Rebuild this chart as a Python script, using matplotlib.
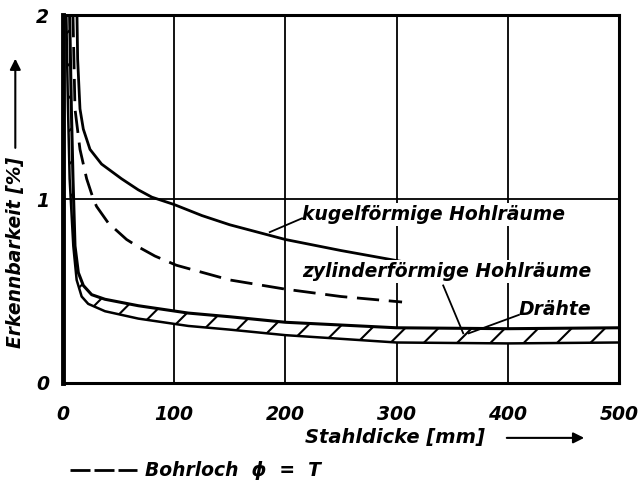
import numpy as np
import matplotlib
matplotlib.use("Agg")
import matplotlib.pyplot as plt

# Stahldicke [mm] vs Erkennbarkeit [%]
kugel_x = [12.6, 13.2, 15.3, 18.3, 24.3, 34.7, 52.7, 67.7, 80, 100, 125, 150, 175, 200, 250, 305]
kugel_y = [2.0, 1.76, 1.49, 1.38, 1.27, 1.19, 1.11, 1.05, 1.01, 0.97, 0.91, 0.86, 0.82, 0.78, 0.72, 0.66]

zyl_x = [9, 10.8, 15.3, 21.3, 27.3, 30.2, 40.7, 57.2, 67.7, 82.7, 102, 150, 200, 250, 305]
zyl_y = [2.0, 1.49, 1.27, 1.11, 1.0, 0.96, 0.87, 0.78, 0.74, 0.69, 0.64, 0.56, 0.51, 0.47, 0.44]

# Drähte: band between upper and lower curve
draht_hi_x = [6, 7.5, 9, 10.8, 13.8, 18.3, 25.8, 37.8, 67.7, 112.7, 150, 200, 250, 300, 400, 500]
draht_hi_y = [2.0, 1.5, 1.11, 0.745, 0.60, 0.53, 0.48, 0.455, 0.42, 0.38, 0.36, 0.33, 0.315, 0.30, 0.295, 0.30]
draht_lo_x = [3, 4.5, 6, 9.3, 12.3, 16.8, 22.7, 37.8, 67.7, 112.7, 150, 200, 250, 300, 400, 500]
draht_lo_y = [2.0, 1.5, 1.11, 0.745, 0.56, 0.47, 0.43, 0.39, 0.35, 0.31, 0.29, 0.26, 0.24, 0.22, 0.215, 0.22]

xticks = [0, 100, 200, 300, 400, 500]
yticks = [0, 1, 2]

plt.rcParams['hatch.linewidth'] = 1.5
font = dict(style='italic', weight='bold', color='black')

fig = plt.figure(figsize=(6.38, 4.86), dpi=100)
ax = fig.add_axes([0.0987, 0.212, 0.8713, 0.757])
ax.set_xlim(0, 500)
ax.set_ylim(0, 2)

# grid
for xv in xticks[1:-1]:
    ax.axvline(xv, color='black', lw=1.3, zorder=1)
ax.axhline(1, color='black', lw=1.3, zorder=1)

ax.plot(kugel_x, kugel_y, color='black', lw=2.0, zorder=3)
ax.plot(zyl_x, zyl_y, color='black', lw=2.0, dashes=(8, 3.5), zorder=3)
band_x = np.concatenate([draht_hi_x, draht_lo_x[::-1]])
band_y = np.concatenate([draht_hi_y, draht_lo_y[::-1]])
ax.fill(band_x, band_y, facecolor='white', edgecolor='black', hatch='/', lw=0, zorder=2)
ax.plot(draht_hi_x, draht_hi_y, color='black', lw=2.2, zorder=3)
ax.plot(draht_lo_x, draht_lo_y, color='black', lw=1.8, zorder=3)

# labels with leader lines
box = dict(facecolor='white', edgecolor='none', pad=1.5)
ax.text(215, 0.915, 'kugelförmige Hohlräume', fontsize=13.5, va='center', ha='left', zorder=4,
        bbox=box, **font)
ax.plot([186, 215], [0.82, 0.895], color='black', lw=1.3, zorder=4)
ax.text(215, 0.605, 'zylinderförmige Hohlräume', fontsize=13.5, va='center', ha='left', zorder=4,
        bbox=box, **font)
ax.plot([342, 360], [0.53, 0.27], color='black', lw=1.3, zorder=4)
ax.text(410, 0.40, 'Drähte', fontsize=13.5, va='center', ha='left', zorder=4,
        bbox=dict(facecolor='white', edgecolor='none', pad=1.0), **font)
ax.plot([410, 365], [0.37, 0.27], color='black', lw=1.3, zorder=4)

ax.set_xticks(xticks)
ax.set_yticks(yticks)
ax.set_xticklabels([str(v) for v in xticks], fontsize=13.5, **font)
ax.set_yticklabels([str(v) for v in yticks], fontsize=13.5, **font)
ax.tick_params(length=0)
ax.tick_params(axis='x', pad=16)
ax.tick_params(axis='y', pad=10)
for s in ax.spines.values():
    s.set_linewidth(2.2)
ax.spines['left'].set_linewidth(3.5)

# axis titles with arrows
fig.text(0.024, 0.48, 'Erkennbarkeit [%]', rotation=90, fontsize=13.5, ha='center', va='center', **font)
fig.patches.append(matplotlib.patches.FancyArrowPatch((0.024, 0.69), (0.024, 0.885),
                   transform=fig.transFigure, arrowstyle='-|>', mutation_scale=16,
                   color='black', lw=1.5))
fig.text(0.478, 0.099, 'Stahldicke [mm]', fontsize=14, ha='left', va='center', **font)
fig.patches.append(matplotlib.patches.FancyArrowPatch((0.79, 0.099), (0.92, 0.099),
                   transform=fig.transFigure, arrowstyle='-|>', mutation_scale=16,
                   color='black', lw=1.5))

# Bohrloch note
fig.add_artist(matplotlib.lines.Line2D([0.11, 0.2155], [0.033, 0.033], transform=fig.transFigure,
               color='black', lw=2.0, dashes=(7.2, 1.44)))
fig.text(0.228, 0.033, 'Bohrloch  ϕ  =  T', fontsize=13.5, ha='left', va='center', **font)

fig.savefig('out.png', dpi=100)
